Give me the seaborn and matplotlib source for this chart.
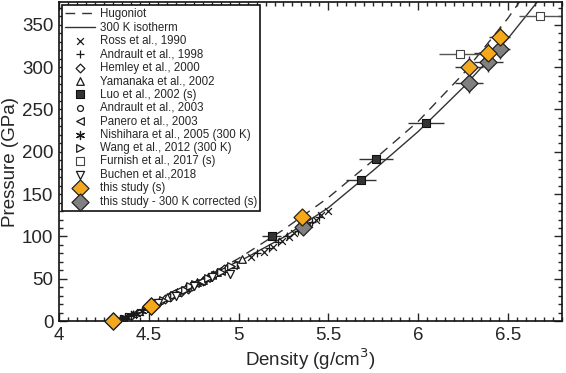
import matplotlib
matplotlib.use("Agg")
import matplotlib.pyplot as plt
from matplotlib.ticker import MultipleLocator
import seaborn as sns

# Model curves (density g/cm3, pressure GPa)
hug_rho = [4.30, 4.51, 4.75, 5.00, 5.25, 5.50, 5.75, 6.00, 6.25, 6.50, 6.57]
hug_p = [0, 18, 45, 74, 108, 146, 190, 236, 292, 358, 379]
iso_rho = [4.30, 4.51, 4.75, 5.00, 5.25, 5.50, 5.75, 6.00, 6.25, 6.50, 6.67]
iso_p = [0, 18, 42, 70, 99, 134, 178, 224, 276, 334, 379]

# Literature data
ross_rho = [4.33, 4.36, 4.39, 4.42, 4.45, 5.07, 5.14, 5.19, 5.24, 5.28, 5.31, 5.34, 5.39, 5.43, 5.46, 5.50]
ross_p = [2, 4, 6, 9, 11, 76, 82, 88, 95, 99, 104, 110, 115, 120, 125, 130]
andr98_rho = [4.35, 4.38, 4.41, 5.10, 5.17, 5.22, 5.27, 5.33, 5.37, 5.41, 5.45]
andr98_p = [3, 5, 8, 80, 86, 93, 100, 106, 112, 117, 123]
hemley_rho = [4.55, 4.59, 4.62, 4.68, 4.72, 4.74, 4.80, 4.86, 4.92]
hemley_p = [22, 26, 29, 35, 38, 41, 48, 54, 61]
yama_rho = [4.60, 4.66, 4.71, 4.77, 4.80, 4.83, 4.88, 4.93, 4.98, 5.02]
yama_p = [28, 34, 40, 46, 49, 52, 58, 63, 68, 73]
luo_rho = [5.184, 5.681, 5.765, 6.043]
luo_p = [101, 167, 192, 234]
luo_err = [0.053, 0.084, 0.093, 0.10]
andr03_rho = [4.40, 4.45, 4.50, 4.57, 4.64]
andr03_p = [6, 11, 16, 24, 31]
panero_rho = [4.63, 4.67, 4.70, 4.76, 4.79, 4.82, 4.85, 4.90, 4.97]
panero_p = [33, 37, 39, 45, 48, 51, 55, 59, 66]
nish_rho = [4.32, 4.34, 4.37, 4.40, 4.43, 4.46, 4.49]
nish_p = [1, 3, 5, 7, 9, 12, 15]
wang_rho = [4.52, 4.58, 4.64, 4.70, 4.73, 4.76, 4.83, 4.87, 4.90, 4.96]
wang_p = [18, 25, 31, 37, 41, 44, 51, 55, 58, 65]
furnish_rho = [6.233, 6.678]
furnish_p = [316, 360]
furnish_err = [0.117, 0.117]
buchen_rho = [4.55, 4.65, 4.75, 4.85, 4.95]
buchen_p = [21, 30, 42, 52, 56]

# This study
ts_rho = [4.30, 4.51, 5.351, 6.281, 6.39, 6.452]
ts_p = [0, 18, 122.6, 300.6, 316.4, 336]
ts_rho_err = [0.0, 0.01, 0.02, 0.077, 0.08, 0.06]
ts_p_err = [0, 3, 6, 12, 12, 12]
tc_rho = [4.30, 4.51, 5.357, 6.281, 6.39, 6.452]
tc_p = [0, 18, 111.5, 281.7, 306.5, 321]

sns.set_style("ticks")
plt.rcParams["font.family"] = ["Liberation Sans", "DejaVu Sans"]

fig, ax = plt.subplots(figsize=(5.66, 3.73), dpi=100)
fig.subplots_adjust(left=0.104, right=0.993, bottom=0.139, top=0.995)

sns.lineplot(x=hug_rho, y=hug_p, color="#333333", lw=1, linestyle=(0, (7, 5)),
             sort=False, estimator=None, label="Hugoniot", ax=ax)
sns.lineplot(x=iso_rho, y=iso_p, color="#333333", lw=1,
             sort=False, estimator=None, label="300 K isotherm", ax=ax)

small = 24
ink = "#1a1a1a"
sns.scatterplot(x=ross_rho, y=ross_p, marker="x", s=small, color=ink, linewidth=0.9,
                label="Ross et al., 1990", ax=ax, zorder=3)
sns.scatterplot(x=andr98_rho, y=andr98_p, marker="+", s=small + 8, color=ink, linewidth=0.9,
                label="Andrault et al., 1998", ax=ax, zorder=3)
sns.scatterplot(x=hemley_rho, y=hemley_p, marker="D", s=small - 4, facecolor="white", edgecolor=ink,
                linewidth=0.9, label="Hemley et al., 2000", ax=ax, zorder=3)
sns.scatterplot(x=yama_rho, y=yama_p, marker="^", s=small + 6, facecolor="white", edgecolor=ink,
                linewidth=0.9, label="Yamanaka et al., 2002", ax=ax, zorder=3)

ax.errorbar(luo_rho, luo_p, xerr=luo_err, fmt="none", ecolor="#333333", elinewidth=1, zorder=2)
sns.scatterplot(x=luo_rho, y=luo_p, marker="s", s=32, color="#333333", edgecolor="#111111",
                linewidth=0.8, label="Luo et al., 2002 (s)", ax=ax, zorder=4)

sns.scatterplot(x=andr03_rho, y=andr03_p, marker="o", s=small - 6, facecolor="white", edgecolor=ink,
                linewidth=0.9, label="Andrault et al., 2003", ax=ax, zorder=3)
sns.scatterplot(x=panero_rho, y=panero_p, marker="<", s=small + 6, facecolor="white", edgecolor=ink,
                linewidth=0.9, label="Panero et al., 2003", ax=ax, zorder=3)
sns.scatterplot(x=nish_rho, y=nish_p, marker=(6, 2, 0), s=small + 10, color=ink, linewidth=0.9,
                label="Nishihara et al., 2005 (300 K)", ax=ax, zorder=3)
sns.scatterplot(x=wang_rho, y=wang_p, marker=">", s=small + 6, facecolor="white", edgecolor=ink,
                linewidth=0.9, label="Wang et al., 2012 (300 K)", ax=ax, zorder=3)

ax.errorbar(furnish_rho, furnish_p, xerr=furnish_err, fmt="none", ecolor="#555555", elinewidth=1, zorder=2)
sns.scatterplot(x=furnish_rho, y=furnish_p, marker="s", s=40, facecolor="white", edgecolor="#444444",
                linewidth=0.8, label="Furnish et al., 2017 (s)", ax=ax, zorder=4)
sns.scatterplot(x=buchen_rho, y=buchen_p, marker="v", s=small + 10, facecolor="white", edgecolor=ink,
                linewidth=0.9, label="Buchen et al.,2018", ax=ax, zorder=3)

ax.errorbar(ts_rho, ts_p, xerr=ts_rho_err, yerr=ts_p_err, fmt="none", ecolor="#333333", elinewidth=1, zorder=2)
ax.errorbar(tc_rho, tc_p, xerr=ts_rho_err, yerr=ts_p_err, fmt="none", ecolor="#333333", elinewidth=1, zorder=2)
sns.scatterplot(x=tc_rho, y=tc_p, marker="D", s=75, color="#808080", edgecolor="#222222",
                linewidth=0.9, ax=ax, zorder=5, clip_on=False)
sns.scatterplot(x=ts_rho, y=ts_p, marker="D", s=75, color="#F5A81C", edgecolor="#222222",
                linewidth=0.9, label="this study (s)", ax=ax, zorder=6, clip_on=False)
# legend proxy for the corrected points
ax.scatter([], [], marker="D", s=75, color="#808080", edgecolor="#222222",
           linewidth=0.9, label="this study - 300 K corrected (s)")

ax.set_xlim(4, 6.8)
ax.set_ylim(0, 377)
ax.xaxis.set_major_locator(MultipleLocator(0.5))
ax.xaxis.set_minor_locator(MultipleLocator(0.05))
ax.yaxis.set_major_locator(MultipleLocator(50))
ax.yaxis.set_minor_locator(MultipleLocator(10))
ax.set_xticks([4, 4.5, 5, 5.5, 6, 6.5])
ax.set_xticklabels(["4", "4.5", "5", "5.5", "6", "6.5"])
ax.tick_params(which="both", direction="in", top=True, right=True, labelsize=13.5, width=1, pad=4)
ax.tick_params(which="major", length=6)
ax.tick_params(which="minor", length=3)
for sp in ax.spines.values():
    sp.set_linewidth(1.2)
    sp.set_color("#111111")

ax.set_xlabel("Density (g/cm$^3$)", fontsize=13.5, labelpad=2)
ax.set_ylabel("Pressure (GPa)", fontsize=13.5, labelpad=2)

leg = ax.legend(loc="upper left", fontsize=8.3, frameon=True, fancybox=False, edgecolor="#111111",
                labelspacing=0.12, handlelength=2.6, handletextpad=0.4, borderpad=0.3,
                borderaxespad=0.25, framealpha=1)
leg.get_frame().set_linewidth(1.2)

fig.savefig("out.png", dpi=100)
